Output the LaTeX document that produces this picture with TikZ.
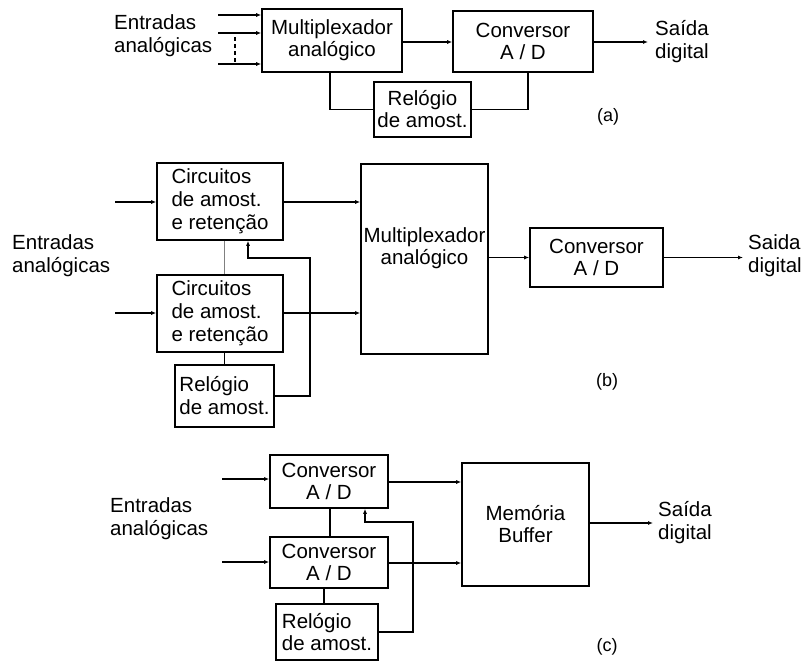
\documentclass[tikz,border=0pt]{standalone}
\usepackage{fontspec}
\setmainfont{Liberation Sans}
\usetikzlibrary{arrows.meta}
\begin{document}
\begin{tikzpicture}[x=1pt,y=-1pt,
  blk/.style={draw,line width=1.6pt,inner sep=0pt,align=center,
    font=\fontsize{20.5}{22}\selectfont},
  txt/.style={inner sep=0pt,align=left,anchor=west,font=\fontsize{20.5}{23}\selectfont},
  lbl/.style={inner sep=0pt,font=\fontsize{18}{20}\selectfont},
  ln/.style={line width=1.2pt},
  arr/.style={line width=1.2pt,-{Latex[length=5pt,width=4pt]}}]
\useasboundingbox (0,0) rectangle (806,664);

% ---------- (a) ----------
\node[blk,minimum width=140pt,minimum height=63pt] (muxa) at (332,40.5) {Multiplexador\\analógico};
\node[blk,minimum width=140pt,minimum height=61pt] (conva) at (523,41.5) {Conversor\\A / D};
\node[blk,minimum width=97pt,minimum height=55pt] (rela) at (422.5,109.5) {Relógio\\de amost.};
\node[txt] (enta) at (114,36) {Entradas\\analógicas};
\node[txt] (saia) at (655,42) {Saída\\digital};
\node[lbl] (la) at (608,117) {(a)};
\coordinate (ia1) at (218,15);
\coordinate (ia2) at (218,33);
\coordinate (ia3) at (218,64);
\coordinate (da1) at (235,37);
\coordinate (da2) at (235,63);
\coordinate (oa) at (648,42);
\draw[arr] (ia1) -- (ia1 -| muxa.west);
\draw[arr] (ia2) -- (ia2 -| muxa.west);
\draw[arr] (ia3) -- (ia3 -| muxa.west);
\draw[ln,dashed,dash pattern=on 4pt off 3pt] (da1) -- (da2);
\draw[arr] (muxa.east |- oa) -- (conva.west |- oa);
\draw[arr] (conva.east |- oa) -- (oa);
\draw[ln] ([xshift=-2pt]muxa.south) |- (rela.west);
\draw[ln] (rela.east) -| ([xshift=5pt]conva.south);

% ---------- (b) ----------
\node[blk,minimum width=126pt,minimum height=77pt,align=left,font=\fontsize{20.5}{23}\selectfont] (sh1) at (220,201.5) {Circuitos\\de amost.\\e retenção};
\node[blk,minimum width=126pt,minimum height=77pt,align=left,font=\fontsize{20.5}{23}\selectfont] (sh2) at (220,313.5) {Circuitos\\de amost.\\e retenção};
\node[blk,minimum width=99pt,minimum height=62pt,align=left,font=\fontsize{20.5}{23}\selectfont] (relb) at (224.5,396) {Relógio\\de amost.};
\node[blk,minimum width=127pt,minimum height=190pt] (muxb) at (424.5,259) {};
\node[inner sep=0pt,align=center,font=\fontsize{20.5}{22}\selectfont] (muxbt) at (424.5,248) {Multiplexador\\analógico};
\node[blk,minimum width=133pt,minimum height=59pt] (convb) at (596.5,257.5) {Conversor\\A / D};
\node[txt] (entb) at (12,256) {Entradas\\analógicas};
\node[txt] (saib) at (748,256) {Saida\\digital};
\node[lbl] (lb) at (607,382) {(b)};
\coordinate (ib1) at (115,202);
\coordinate (ib2) at (115,313);
\coordinate (fbb) at (310,258);
\coordinate (ob) at (743,257.5);
\draw[arr] (ib1) -- (ib1 -| sh1.west);
\draw[arr] (ib2) -- (ib2 -| sh2.west);
\draw[arr] (sh1.east |- ib1) -- (muxb.west |- ib1);
\draw[arr] (sh2.east |- ib2) -- (muxb.west |- ib2);
\draw[ln,line width=0.9pt,gray] ([xshift=4pt]sh1.south) -- ([xshift=4pt]sh2.north);
\draw[ln] (relb.north) -- (relb.north |- sh2.south);
\draw[arr] (relb.east) -| (fbb) -| ([xshift=28pt]sh1.south);
\draw[arr] (muxb.east |- convb.west) -- (convb.west);
\draw[arr] (convb.east) -- (ob);

% ---------- (c) ----------
\node[blk,minimum width=118pt,minimum height=53pt] (cc1) at (329,481.5) {Conversor\\A / D};
\node[blk,minimum width=118pt,minimum height=51pt] (cc2) at (329,562.5) {Conversor\\A / D};
\node[blk,minimum width=102pt,minimum height=56pt,align=left] (relc) at (327,632) {Relógio\\de amost.};
\node[blk,minimum width=127pt,minimum height=123pt] (buf) at (525.5,524.5) {Memória\\Buffer};
\node[txt] (entc) at (110,519) {Entradas\\analógicas};
\node[txt] (saic) at (658,523) {Saída\\digital};
\node[lbl] (lc) at (607,647) {(c)};
\coordinate (ic1) at (222,479);
\coordinate (ic2) at (222,562);
\coordinate (fbc) at (413,522);
\coordinate (oc) at (653,523);
\draw[arr] (ic1) -- (ic1 -| cc1.west);
\draw[arr] (ic2) -- (ic2 -| cc2.west);
\draw[arr] (cc1.east |- 0,482) -- (buf.west |- 0,482);
\draw[arr] (cc2.east |- 0,563) -- (buf.west |- 0,563);
\draw[ln] ([xshift=1pt]cc1.south) -- ([xshift=1pt]cc2.north);
\draw[ln] ([xshift=-5pt]cc2.south) -- ([xshift=-3pt]relc.north);
\draw[arr] (relc.east) -| (fbc) -| ([xshift=36pt]cc1.south);
\draw[arr] (buf.east |- oc) -- (oc);
\end{tikzpicture}
\end{document}
